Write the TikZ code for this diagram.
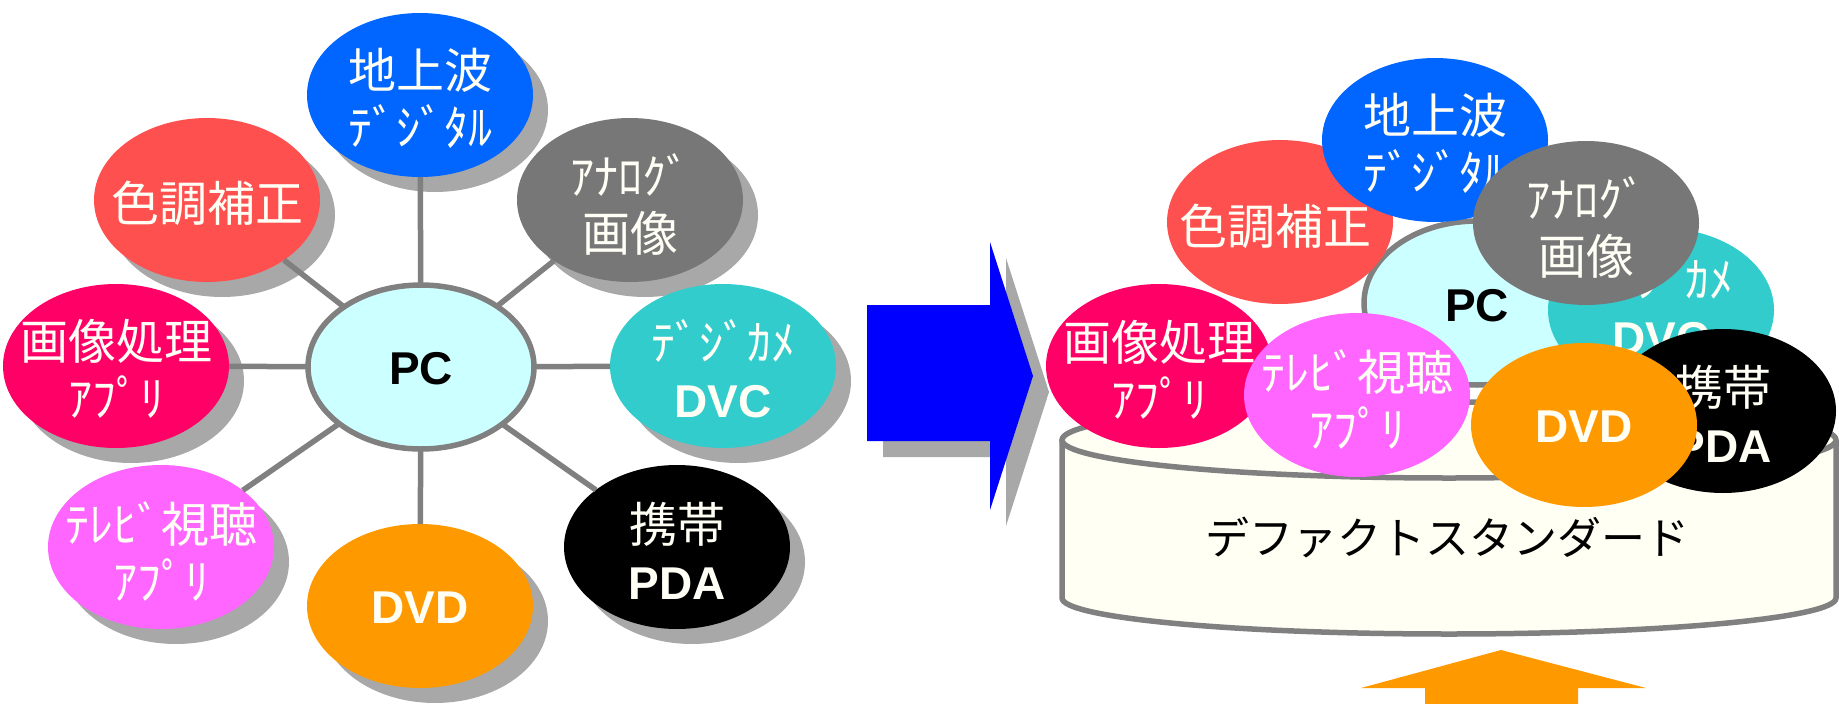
\documentclass[tikz,border=0pt]{standalone}
\usepackage{fontspec}
\setmainfont{Noto Sans CJK JP}
\newfontfamily\lat{Liberation Sans}
\usetikzlibrary{shapes.geometric}
\definecolor{cBlue}{HTML}{0066FF}
\definecolor{cRed}{HTML}{FF5050}
\definecolor{cGray}{HTML}{777777}
\definecolor{cCrim}{HTML}{FF0066}
\definecolor{cTeal}{HTML}{33CCCC}
\definecolor{cMag}{HTML}{FF66FF}
\definecolor{cOrg}{HTML}{FF9900}
\definecolor{cPC}{HTML}{CCFFFF}
\definecolor{cLine}{HTML}{808080}
\definecolor{cShadow}{HTML}{A8A8A8}
\definecolor{cCyl}{HTML}{FFFFF4}
\definecolor{cTxt}{HTML}{FFFFF6}
\definecolor{cArrow}{HTML}{0000FF}
\begin{document}
\begin{tikzpicture}[x=1pt,y=-1pt,
  ball/.style={ellipse, fill=#1, minimum width=226pt, minimum height=164pt, inner sep=0pt, outer sep=0pt},
  pcball/.style={ellipse, fill=cPC, draw=cLine, line width=5.5pt, minimum width=226pt, minimum height=164pt, inner sep=0pt, outer sep=0pt},
  shadowball/.style={ellipse, fill=cShadow, minimum width=226pt, minimum height=164pt, inner sep=0pt, outer sep=0pt, xshift=15pt, yshift=-15pt},
  lbl/.style={text=cTxt, align=center, font=\fontsize{48pt}{57pt}\selectfont, inner sep=0pt},
  latl/.style={align=center, font=\fontsize{46pt}{57pt}\selectfont\lat\bfseries, inner sep=0pt},
  spoke/.style={draw=cLine, line width=5.5pt},
  cyltext/.style={text=black, font=\fontsize{44pt}{50pt}\selectfont, inner sep=0pt}
]
\useasboundingbox (0,0) rectangle (1839,704);

% ---------------- left: star diagram ----------------
\node[shadowball] (sBlue) at (420,95) {};
\node[shadowball] (sRed) at (207,200) {};
\node[shadowball] (sGray) at (630,200) {};
\node[shadowball] (sCrim) at (116,366) {};
\node[shadowball] (sTeal) at (723,366) {};
\node[shadowball] (sMag) at (161,547) {};
\node[shadowball] (sDVD) at (420,606) {};
\node[shadowball] (sPDA) at (677,547) {};

\node[ball=cBlue] (lBlue) at (420,95) {};
\node[ball=cRed] (lRed) at (207,200) {};
\node[ball=cGray] (lGray) at (630,200) {};
\node[ball=cCrim] (lCrim) at (116,366) {};
\node[ball=cTeal] (lTeal) at (723,366) {};
\node[ball=cMag] (lMag) at (161,547) {};
\node[ball=cOrg] (lDVD) at (420,606) {};
\node[ball=black] (lPDA) at (677,547) {};
\node[pcball] (lPC) at (421,367) {};

\foreach \t in {lBlue,lRed,lGray,lCrim,lTeal,lMag,lDVD,lPDA}
  \draw[spoke] (lPC) -- (\t);

\node[lbl] (tBlue) at (420,98) {地上波\\ﾃﾞｼﾞﾀﾙ};
\node[lbl] (tRed) at (207,203) {色調補正};
\node[lbl] (tGray) at (630,204) {ｱﾅﾛｸﾞ\\画像};
\node[lbl] (tCrim) at (116,369) {画像処理\\ｱﾌﾟﾘ};
\node[lbl] (tTeal) at (723,369) {ﾃﾞｼﾞｶﾒ\\{\lat\bfseries\fontsize{46pt}{57pt}\selectfont DVC}};
\node[lbl] (tMag) at (161,551) {ﾃﾚﾋﾞ視聴\\ｱﾌﾟﾘ};
\node[latl, text=cTxt] (tDVD) at (420,608) {DVD};
\node[lbl] (tPDA) at (677,551) {携帯\\{\lat\bfseries\fontsize{46pt}{57pt}\selectfont PDA}};
\node[latl, text=black] (tPC) at (421,369) {PC};

% ---------------- middle arrow ----------------
\fill[cShadow] (883,321) -- (1006,321) -- (1006,258) -- (1049,392) -- (1006,526) -- (1006,457) -- (883,457) -- cycle;
\fill[cArrow] (867,305) -- (990,305) -- (990,242) -- (1033,376) -- (990,510) -- (990,441) -- (867,441) -- cycle;

% ---------------- right: standard platform ----------------
\fill[cCyl] (1062,440) -- (1062,598) arc[start angle=180, end angle=360, x radius=387pt, y radius=36pt] -- (1836,440) arc[start angle=0, end angle=180, x radius=387pt, y radius=38pt] -- cycle;
\draw[cLine, line width=5.5pt] (1062,440) -- (1062,598) arc[start angle=180, end angle=360, x radius=387pt, y radius=36pt] -- (1836,440);
\draw[cLine, line width=5.5pt] (1449,440) ellipse[x radius=387pt, y radius=38pt];
\node[cyltext] (cylLabel) at (1447,537) {デファクトスタンダード};

\node[pcball] (rPC) at (1477,303) {};
\node[latl, text=black] (rtPC) at (1477,306) {PC};
\node[ball=cRed] (rRed) at (1280,222) {};
\node[lbl] (rtRed) at (1275,226) {色調補正};
\node[ball=cCrim] (rCrim) at (1159,366) {};
\node[lbl] (rtCrim) at (1159,370) {画像処理\\ｱﾌﾟﾘ};
\node[ball=cMag] (rMag) at (1357,395) {};
\node[lbl] (rtMag) at (1357,399) {ﾃﾚﾋﾞ視聴\\ｱﾌﾟﾘ};
\node[ball=cBlue] (rBlue) at (1435,140) {};
\node[lbl] (rtBlue) at (1435,143) {地上波\\ﾃﾞｼﾞﾀﾙ};
\node[ball=cTeal] (rTeal) at (1661,310) {};
\node[lbl] (rtTeal) at (1661,306) {ﾃﾞｼﾞｶﾒ\\{\lat\bfseries\fontsize{46pt}{57pt}\selectfont DVC}};
\node[ball=cGray] (rGray) at (1586,223) {};
\node[lbl] (rtGray) at (1586,227) {ｱﾅﾛｸﾞ\\画像};
\node[ball=black] (rPDA) at (1723,411) {};
\node[lbl] (rtPDA) at (1723,414) {携帯\\{\lat\bfseries\fontsize{46pt}{57pt}\selectfont PDA}};
\node[ball=cOrg] (rDVD) at (1584,425) {};
\node[latl, text=cTxt] (rtDVD) at (1584,427) {DVD};

% ---------------- bottom arrow ----------------
\fill[cOrg] (1501,650) -- (1646,688) -- (1578,688) -- (1578,704) -- (1425,704) -- (1425,688) -- (1361,688) -- cycle;
\end{tikzpicture}
\end{document}
